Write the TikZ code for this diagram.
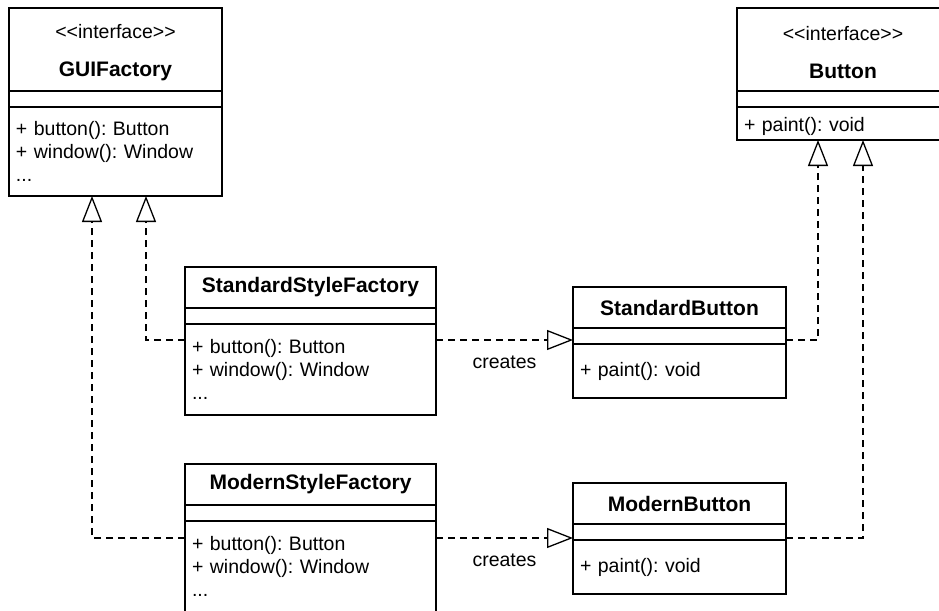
\documentclass[tikz,border=0pt]{standalone}
\usepackage{fontspec}
\setmainfont{Liberation Sans}
\usetikzlibrary{calc}
\usetikzlibrary{positioning}
\usetikzlibrary{arrows.meta}

% plain spacing after the colons in the signatures
\frenchspacing

% stereotype line, kerned so the font mapping keeps the angle brackets
\newcommand{\umlstereo}[1]{{\normalfont\fontsize{19.5}{23}\selectfont<\kern0pt<#1>\kern0pt>}}

\tikzset{
    compartment/.style={draw, line width=1.3pt, inner sep=0pt, outer sep=0pt, anchor=north west},
    classname/.style={compartment, align=center, font=\fontsize{21}{23}\selectfont\bfseries},
    members/.style={compartment, align=left, inner xsep=7pt},
    realize/.style={draw, line width=1.3pt, dash pattern=on 7pt off 5pt,
        -{Triangle[open, length=26pt, width=20pt, line width=1.3pt]}},
    creates/.style={below=15pt, inner sep=0pt}
}

\begin{document}
\begin{tikzpicture}[x=1pt, y=-1pt, font=\fontsize{19.5}{23}\selectfont]
        \useasboundingbox (0,0) rectangle (939,610);
        \fill[white] (0,0) rectangle (939,610);
        \clip (0,0) rectangle (939,610);

        % interfaces
        \node[classname, minimum width=213pt, minimum height=83pt] (gui) at (9,8) {\rule{0pt}{21pt}\umlstereo{interface}\\[15pt]GUIFactory};
        \node[compartment, below=0pt of gui, minimum width=213pt, minimum height=16pt] (gui attr) {};
        \node[members, below=0pt of gui attr, text width=199pt, minimum height=89pt] (gui ops) {+ button(): Button\\+ window(): Window\\...};

        \node[classname, minimum width=212pt, minimum height=83pt] (button) at (737,8) {\rule{0pt}{21pt}\umlstereo{interface}\\[15pt]Button};
        \node[compartment, below=0pt of button, minimum width=212pt, minimum height=16pt] (button attr) {};
        \node[members, below=0pt of button attr, text width=198pt, text height=21pt, minimum height=33pt] (button ops) {+ paint(): void};

        % factories
        \node[classname, minimum width=251pt, minimum height=41pt] (ssf) at (185,267) {StandardStyleFactory};
        \node[compartment, below=0pt of ssf, minimum width=251pt, minimum height=16pt] (ssf attr) {};
        \node[members, below=0pt of ssf attr, text width=237pt, minimum height=91pt] (ssf ops) {+ button(): Button\\+ window(): Window\\...};

        \node[classname, minimum width=251pt, minimum height=41pt] (msf) at (185,464) {ModernStyleFactory};
        \node[compartment, below=0pt of msf, minimum width=251pt, minimum height=16pt] (msf attr) {};
        \node[members, below=0pt of msf attr, text width=237pt, minimum height=91pt] (msf ops) {+ button(): Button\\+ window(): Window\\...};

        % products
        \node[classname, minimum width=213pt, minimum height=41pt] (sb) at (573,287) {StandardButton};
        \node[compartment, below=0pt of sb, minimum width=213pt, minimum height=16pt] (sb attr) {};
        \node[members, below=0pt of sb attr, text width=199pt, minimum height=54pt] (sb ops) {+ paint(): void};

        \node[classname, minimum width=213pt, minimum height=41pt] (mb) at (573,483) {ModernButton};
        \node[compartment, below=0pt of mb, minimum width=213pt, minimum height=16pt] (mb attr) {};
        \node[members, below=0pt of mb attr, text width=199pt, minimum height=54pt] (mb ops) {+ paint(): void};

        % rows and ports for the connectors
        \coordinate (std row) at (0,340);
        \coordinate (mod row) at (0,538);
        \coordinate (gui left in) at ([xshift=83pt]gui ops.south west);
        \coordinate (gui right in) at ([xshift=137pt]gui ops.south west);
        \coordinate (button left in) at ([xshift=81pt]button ops.south west);
        \coordinate (button right in) at ([xshift=126pt]button ops.south west);

        \draw[realize] (ssf ops.west |- std row) -| (gui right in);
        \draw[realize] (msf ops.west |- mod row) -| (gui left in);
        \draw[realize] (ssf ops.east |- std row) -- node[creates] {creates} (sb attr.west |- std row);
        \draw[realize] (msf ops.east |- mod row) -- node[creates] {creates} (mb attr.west |- mod row);
        \draw[realize] (sb attr.east |- std row) -| (button left in);
        \draw[realize] (mb attr.east |- mod row) -| (button right in);
\end{tikzpicture}
\end{document}
